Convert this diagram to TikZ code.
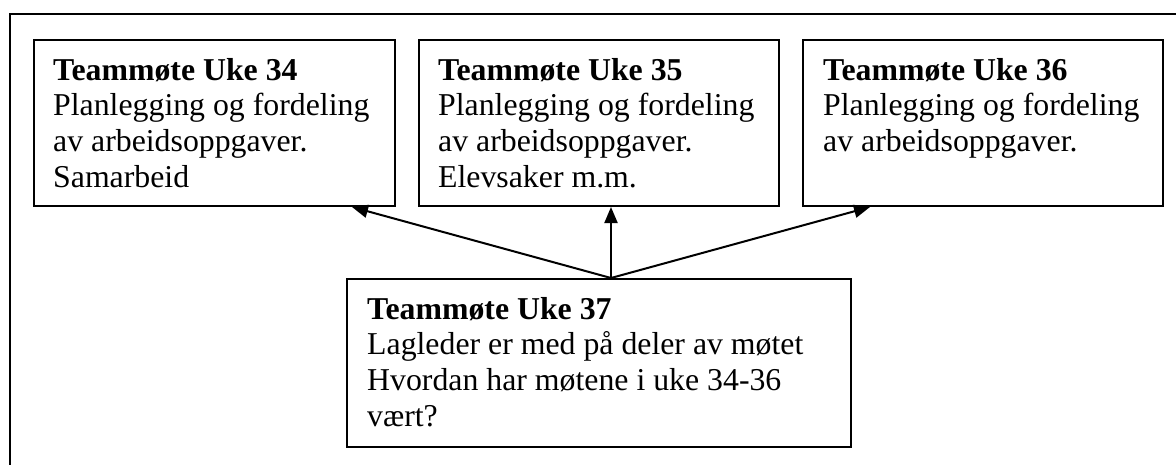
\documentclass[tikz,border=0pt]{standalone}
\usepackage{fontspec}
\setmainfont{Liberation Serif}
\usetikzlibrary{arrows.meta}

\tikzset{
  frameline/.style={line width=2pt, line cap=rect},
  weekbox/.style={draw, line width=2pt, rectangle, inner sep=0pt, anchor=north west},
  weektext/.style={inner sep=0pt, anchor=base west, align=left,
    font=\fontsize{31.8}{35.8}\selectfont},
  link/.style={line width=2pt, -{Triangle[length=16pt,width=13pt]}, shorten >=0pt},
}

\newcommand{\weeklines}[1]{\begin{tabular}[t]{@{}l@{}}#1\end{tabular}}

\begin{document}
\begin{tikzpicture}[x=1pt,y=-1pt]
  \useasboundingbox (0,0) rectangle (1176,464);

  % surrounding frame (only top and left edges fall on the page)
  \coordinate (fl) at (10,464);
  \coordinate (fc) at (10,14);
  \coordinate (fr) at (1177,14);
  \draw[frameline] (fl) -- (fc) -- (fr);

  % weekly team meetings
  \node[weekbox, minimum width=361pt, minimum height=166pt] (w34) at (33,39) {};
  \node[weekbox, minimum width=360pt, minimum height=166pt] (w35) at (418,39) {};
  \node[weekbox, minimum width=360pt, minimum height=166pt] (w36) at (802,39) {};
  \node[weekbox, minimum width=504pt, minimum height=168pt] (w37) at (346,278) {};

  \node[weektext] (t34) at ([shift={(20,41)}]w34.north west)
    {\weeklines{\textbf{Teammøte Uke 34}\\Planlegging og fordeling\\av arbeidsoppgaver.\\Samarbeid}};
  \node[weektext] (t35) at ([shift={(20,41)}]w35.north west)
    {\weeklines{\textbf{Teammøte Uke 35}\\Planlegging og fordeling\\av arbeidsoppgaver.\\Elevsaker m.m.}};
  \node[weektext] (t36) at ([shift={(21,41)}]w36.north west)
    {\weeklines{\textbf{Teammøte Uke 36}\\Planlegging og fordeling\\av arbeidsoppgaver.}};
  \node[weektext] (t37) at ([shift={(21,41)}]w37.north west)
    {\weeklines{\textbf{Teammøte Uke 37}\\Lagleder er med på deler av møtet\\Hvordan har møtene i uke 34-36\\vært?}};

  % arrows from week 37 back to the earlier meetings
  \coordinate (apex) at ([xshift=12pt]w37.north);
  \draw[link] (apex) -- ([xshift=-44pt]w34.south east);
  \draw[link] (apex) -- (w35.south -| apex);
  \draw[link] (apex) -- ([xshift=68pt]w36.south west);
\end{tikzpicture}
\end{document}
